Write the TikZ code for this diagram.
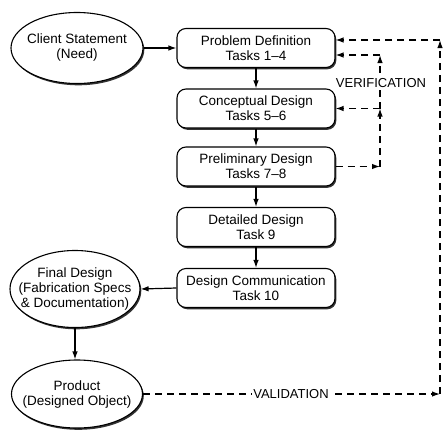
\documentclass[tikz,border=0pt]{standalone}
\usepackage{fontspec}
\setmainfont{Liberation Sans}
\usetikzlibrary{shapes.geometric,shadows,arrows.meta,calc}
\begin{document}
\begin{tikzpicture}[x=1pt,y=-1pt,
  every node/.style={font=\fontsize{13.5}{15}\selectfont, align=center},
  shade/.style={drop shadow={shadow xshift=1.3pt, shadow yshift=-1.8pt, fill=black!80, opacity=1}},
  taskbox/.style={draw, line width=1.1pt, rounded corners=9pt, minimum width=158pt,
    minimum height=39pt, fill=white, inner sep=1pt, shade},
  oval/.style={ellipse, draw, line width=1.1pt, fill=white, inner sep=0pt, shade},
  flow/.style={line width=1.2pt, -{Latex[length=8pt,width=5.5pt]}},
  dflow/.style={flow, dash pattern=on 7pt off 5pt},
  tag/.style={fill=white, inner sep=1.5pt, font=\fontsize{13}{15}\selectfont}
]
\useasboundingbox (0,0) rectangle (443,439);

% main task boxes
\node[taskbox] (pd)  at (256,48)    {Problem Definition\\Tasks 1--4};
\node[taskbox] (cd)  at (256,108.5) {Conceptual Design\\Tasks 5--6};
\node[taskbox] (prd) at (256,166.5) {Preliminary Design\\Tasks 7--8};
\node[taskbox] (dd)  at (256,227)   {Detailed Design\\Task 9};
\node[taskbox] (dc)  at (256,288)   {Design Communication\\Task 10};

% ovals
\node[oval, minimum width=132pt, minimum height=71pt,
      label=center:{Client Statement\\(Need)}] (cs) at (77,48) {};
\node[oval, minimum width=130pt, minimum height=77pt,
      label=center:{Final Design\\(Fabrication Specs\\\& Documentation)}] (fd) at (75,289) {};
\node[oval, minimum width=131pt, minimum height=68pt,
      label=center:{Product\\(Designed Object)}] (prod) at (77,394) {};

% main flow
\draw[flow] (cs.east) -- (pd.west);
\draw[flow] (pd) -- (cd);
\draw[flow] (cd) -- (prd);
\draw[flow] (prd) -- (dd);
\draw[flow] (dd) -- (dc);
\draw[flow] (dc.west) -- (fd.east);
\draw[flow] (fd.south) -- (fd.south |- prod.north);

% validation loop
\coordinate (vr) at (440,394);
\coordinate (vt) at (440,40);
\draw[dflow] (prod.east) -- (vr);
\draw[dflow] (vr) -- (vt);
\draw[dflow] (vt) -- (vt -| pd.east);
\node[tag] (val) at (291,394) {VALIDATION};

% verification loop
\coordinate (vb) at (380,166.5);
\coordinate (v1) at (380,108.5);
\coordinate (v2) at (380,55);
\draw[dflow] (prd.east) -- (vb);
\draw[dflow] (vb) -- (v1);
\draw[dflow] (v1) -- (v1 -| cd.east);
\draw[dflow] (v1) -- (v2);
\draw[dflow] (v2) -- (v2 -| pd.east);
\node[tag] (ver) at (381,83) {VERIFICATION};
\end{tikzpicture}
\end{document}
